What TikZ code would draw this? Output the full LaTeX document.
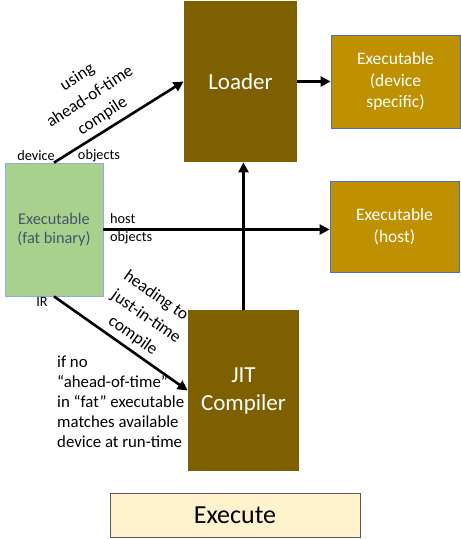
\documentclass[tikz,border=0pt]{standalone}
\usepackage{fontspec}
\setmainfont{Carlito}
\usetikzlibrary{arrows.meta}
\definecolor{darkgold}{HTML}{7F6000}
\definecolor{gold}{HTML}{BF9000}
\definecolor{edgeblue}{HTML}{4472C4}
\definecolor{leaf}{HTML}{A9D18E}
\definecolor{leafedge}{HTML}{8FAADC}
\definecolor{slate}{HTML}{44546A}
\definecolor{cream}{HTML}{FFF2CC}
\tikzset{
  box/.style={inner sep=0pt, align=center, line width=0.8pt},
  darkbox/.style={box, fill=darkgold, text=white, font=\fontsize{23}{28}\selectfont},
  goldbox/.style={box, fill=gold, draw=edgeblue, text=white, font=\fontsize{17.5}{21.5}\selectfont},
  flow/.style={line width=2.6pt, -{Triangle[length=10pt,width=10pt]}},
  lbl/.style={inner sep=0pt, font=\fontsize{14.3}{17}\selectfont},
  note/.style={inner sep=0pt, align=center, font=\fontsize{17.2}{23}\selectfont},
}
\begin{document}
\begin{tikzpicture}[x=1pt, y=-1pt]
\useasboundingbox (0,0) rectangle (461,539);

\node[darkbox, minimum width=113pt, minimum height=161pt] (loader) at (240.5,81.5) {Loader};
\node[goldbox, minimum width=129pt, minimum height=93pt] (dev) at (395.5,81.5) {Executable\\(device\\specific)};
\node[goldbox, minimum width=129pt, minimum height=91pt] (host) at (394.5,226.5) {Executable\\(host)};
\node[box, fill=leaf, draw=leafedge, text=slate, minimum width=98pt, minimum height=133pt,
      font=\fontsize{16.3}{19.5}\selectfont] (fat) at (54,229.5) {Executable\\(fat binary)};
\node[darkbox, minimum width=111pt, minimum height=161pt] (jit) at (243.5,390.5) {JIT\\Compiler};
\node[box, fill=cream, draw=black!65, minimum width=250pt, minimum height=44pt,
      font=\fontsize{26}{30}\selectfont] (exec) at (235,515) {Execute};

% connectors
\draw[flow] (fat.north) -- (loader.west);
\draw[flow] (loader.east) -- (dev.west);
\draw[flow] (fat.east) -- (fat.east -| host.west);
\draw[flow] (fat.south) -- (jit.west);
\draw[flow] (jit.north) -- (jit.north |- loader.south);

% labels
\node[lbl] (ldev) at (36,156) {device};
\node[lbl] (lobj) at (99,156) {objects};
\node[lbl, anchor=west] (lhost) at (110,219) {host};
\node[lbl, anchor=west] (lhobj) at (110,238) {objects};
\node[lbl] (lir) at (42,302) {IR};
\node[note, rotate=33] (aot) at (90,97) {using\\ahead-of-time\\compile};
\node[note, rotate=-35] (jitnote) at (146,317) {heading to\hspace*{8pt}\\just-in-time\\compile};
\node[inner sep=0pt, align=left, anchor=north west, font=\fontsize{16.8}{20}\selectfont] (cond) at (57,356)
  {if no\\“ahead-of-time”\\in “fat” executable\\matches available\\device at run-time};
\end{tikzpicture}
\end{document}
